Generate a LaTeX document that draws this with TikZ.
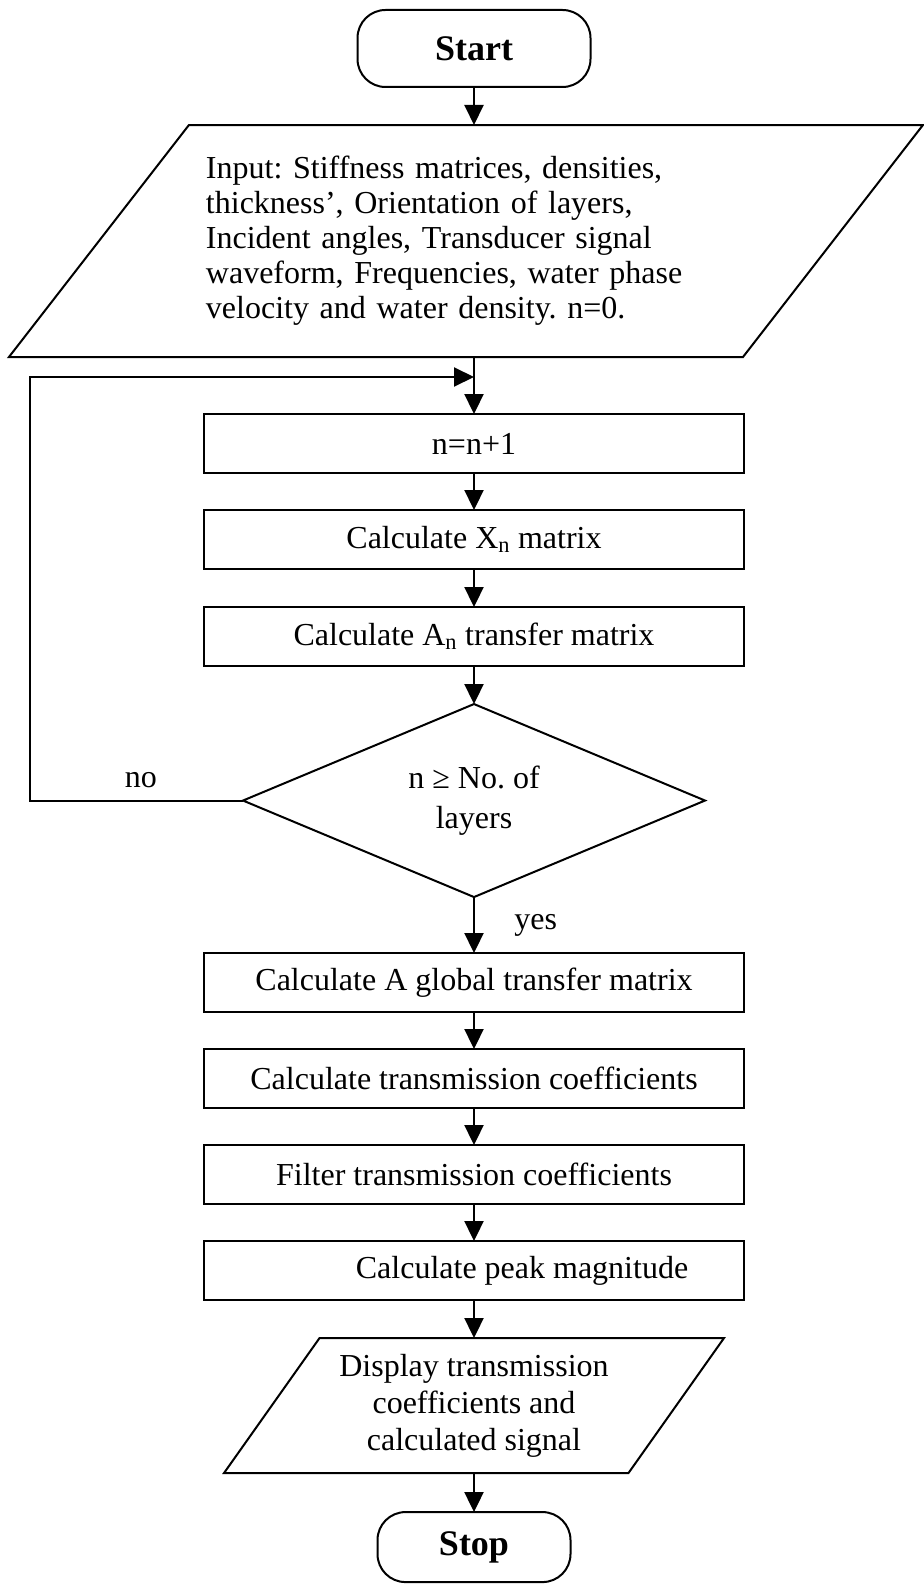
\documentclass[tikz,border=0pt]{standalone}
\usepackage{fontspec}
\setmainfont{Liberation Serif}
\usetikzlibrary{positioning,shapes.geometric,arrows.meta}
\frenchspacing

\tikzset{
  box/.style={draw, line width=2pt, outer sep=0pt, minimum width=540pt, minimum height=59pt, inner sep=2pt},
  term/.style={draw, line width=2pt, outer sep=0pt, rounded corners=28pt, minimum width=233pt,
    minimum height=77pt, font=\fontsize{36}{40}\selectfont\bfseries},
  io/.style={draw, line width=2pt, outer sep=0pt, trapezium, trapezium stretches body=true},
  cond/.style={draw, line width=2pt, outer sep=0pt, diamond, aspect=2.4, minimum width=462pt,
    minimum height=193pt, inner sep=0pt, align=center, font=\fontsize{32}{40}\selectfont},
  flow/.style={line width=2pt, -{Triangle[length=20pt,width=19pt]}},
}

\begin{document}
\begin{tikzpicture}[x=1pt, y=1pt, font=\fontsize{32}{35}\selectfont]
  \useasboundingbox (0,0) rectangle (923,-1586);

  \node[term] (start) at (474,-48.5) {Start};
  \node[io, below=38pt of start, xshift=-8pt, trapezium left angle=51.4, trapezium right angle=128.6,
    minimum width=914pt, minimum height=232pt, inner ysep=28pt, text width=520pt, align=left] (input)
    {Input: Stiffness matrices, densities,\\
     thickness', Orientation of layers,\\
     Incident angles, Transducer signal\\
     waveform, Frequencies, water phase\\
     velocity and water density. n=0.};
  \node[box, below=57pt of input, xshift=8pt] (inc) {n=n+1};
  \node[box, below=37pt of inc] (xn) {Calculate X\textsubscript{n} matrix};
  \node[box, below=38pt of xn] (an) {Calculate A\textsubscript{n} transfer matrix};
  \node[cond, below=38pt of an] (dec) {n ≥ No. of\\layers};
  \node[box, below=56pt of dec] (glob) {Calculate A global transfer matrix};
  \node[box, below=37pt of glob] (trans) {Calculate transmission coefficients};
  \node[box, below=37pt of trans] (filt) {Filter transmission coefficients};
  \node[box, below=37pt of filt] (peak) {\hspace*{96pt}Calculate peak magnitude};
  \node[io, below=38pt of peak, trapezium left angle=53.5, trapezium right angle=126.5,
    minimum width=500pt, minimum height=135pt, inner ysep=13pt, align=center,
    font=\fontsize{32}{37}\selectfont] (disp)
    {Display transmission\\coefficients and\\calculated signal};
  \node[term, below=39pt of disp, minimum width=193pt, minimum height=70pt] (stop) {Stop};

  \coordinate (back) at (30,-377);

  \draw[flow] (start.south) -- (start.south |- input.north);
  \draw[flow] (input.south -| inc.north) -- (inc.north);
  \draw[flow] (inc) -- (xn);
  \draw[flow] (xn) -- (an);
  \draw[flow] (an) -- (dec);
  \draw[flow] (dec.west) -| node[pos=0.24, above=8pt] {no} (back) -- (back -| inc.north);
  \draw[flow] (dec.south) -- node[right=36pt] {yes} (dec.south |- glob.north);
  \draw[flow] (glob) -- (trans);
  \draw[flow] (trans) -- (filt);
  \draw[flow] (filt) -- (peak);
  \draw[flow] (peak.south) -- (peak.south |- disp.north);
  \draw[flow] (disp.south -| stop.north) -- (stop.north);
\end{tikzpicture}
\end{document}
